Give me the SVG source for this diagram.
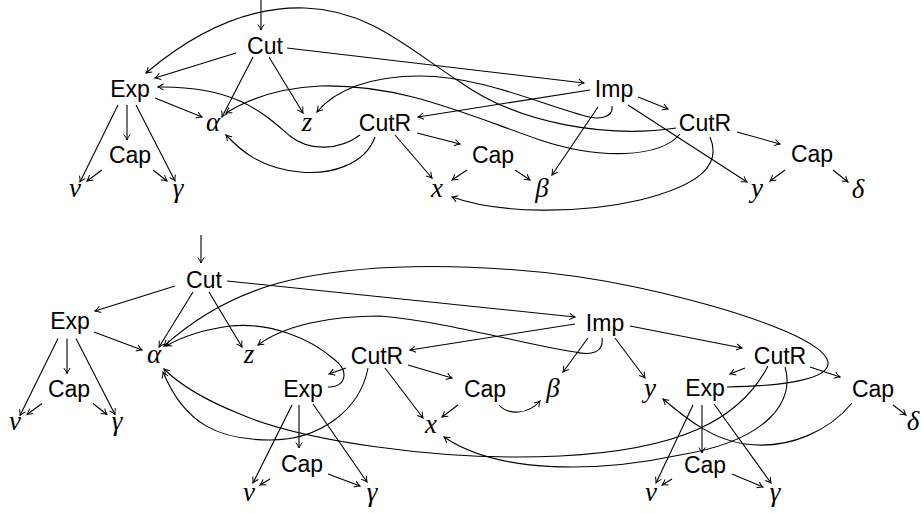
<svg xmlns="http://www.w3.org/2000/svg" width="922" height="513" viewBox="0 0 922 513">
<defs>
<marker id="ah" markerUnits="userSpaceOnUse" viewBox="-7 -4 8 8" markerWidth="8" markerHeight="8" refX="0" refY="0" orient="auto">
<path d="M-5.5,-3.2 Q-2,-0.7 0,0 Q-2,0.7 -5.5,3.2" fill="none" stroke="#000" stroke-width="1"/>
</marker>
</defs>
<style>
.n{font-family:"Liberation Sans",Arial,sans-serif;font-size:23px;fill:#000;text-anchor:middle}
.g{font-family:"Liberation Serif","Times New Roman",serif;font-style:italic;font-size:27px;fill:#000;text-anchor:middle}
#connectors path{fill:none;stroke:#000;stroke-width:1.1;marker-end:url(#ah)}
</style>
<rect width="922" height="513" fill="#fff"/>
<g id="connectors">
<!-- top diagram -->
<path d="M261,0 L261,30"/>
<path d="M236,53 L155,78"/>
<path d="M287,48 L584,83"/>
<path d="M253,57 L222,117"/>
<path d="M269,57 L303,113"/>
<path d="M155,98 L202,117"/>
<path d="M118,105 L80,182"/>
<path d="M127,105 L127,140"/>
<path d="M136,105 L175,181"/>
<path d="M102,170 L87,181"/>
<path d="M153,170 L167,181"/>
<path d="M590,90 L418,117"/>
<path d="M417,133 L460,144"/>
<path d="M395,135 L432,178"/>
<path d="M467,170 L452,180"/>
<path d="M515,170 L530,180"/>
<path d="M598,107 L552,175"/>
<path d="M638,97 L668,109"/>
<path d="M628,105 L747,182"/>
<path d="M737,132 L780,144"/>
<path d="M785,170 L770,181"/>
<path d="M833,170 L848,182"/>
<path d="M676,128 C610,138 520,125 460,82 C410,50 370,10 305,8 C240,6 185,40 146,73"/>
<path d="M680,134 C660,158 600,160 540,140 C460,112 400,84 320,86 C280,88 250,98 226,113"/>
<path d="M612,106 C614,118 598,120 585,116 C540,104 480,76 420,76 C370,76 335,90 317,112"/>
<path d="M360,135 C340,150 310,152 290,136 C262,112 235,86 158,87"/>
<path d="M375,137 C365,165 330,175 300,172 C260,168 240,150 226,135"/>
<path d="M710,137 C722,165 700,185 640,200 C580,214 500,214 452,197"/>
<!-- bottom diagram -->
<path d="M201,235 L201,263"/>
<path d="M175,286 L95,311"/>
<path d="M193,292 L159,347"/>
<path d="M209,292 L242,347"/>
<path d="M94,332 L142,350"/>
<path d="M227,281 L575,317"/>
<path d="M58,338.5 L20,415.5"/>
<path d="M67,338.5 L67,373.5"/>
<path d="M76,338.5 L115,414.5"/>
<path d="M42,403.5 L27,414.5"/>
<path d="M93,403.5 L107,414.5"/>
<path d="M575,324 L410,350"/>
<path d="M346,368 L329,374"/>
<path d="M408,365 L452,378"/>
<path d="M385,368 L423,418"/>
<path d="M458,405 L442,417"/>
<path d="M588,338 L563,372"/>
<path d="M615,338 L645,378"/>
<path d="M630,326 L742,348"/>
<path d="M745,368 L730,374"/>
<path d="M810,367 L840,377"/>
<path d="M893,405 L906,415"/>
<path d="M292,405 L253,483"/>
<path d="M299,405 L299,448"/>
<path d="M313,404 L367,482"/>
<path d="M270,479 L260,485"/>
<path d="M328,474 L360,486"/>
<path d="M693,405 L656,483"/>
<path d="M702,405 L702,453"/>
<path d="M714,404 L771,483"/>
<path d="M672,479 L662,485"/>
<path d="M732,474 L763,487"/>
<path d="M727,387 C790,386 830,378 828,362 C824,340 740,310 640,288 C540,266 400,258 300,278 C240,290 195,318 164,346"/>
<path d="M328,387 C345,388 350,372 335,360 C310,338 270,322 230,326 C200,330 180,338 166,346"/>
<path d="M368,368 C360,410 320,440 270,440 C220,440 185,425 163,372"/>
<path d="M768,366 C740,420 680,450 560,456 C440,462 300,440 240,414 C205,400 180,385 164,369"/>
<path d="M785,367 C795,400 770,440 680,455 C600,472 500,475 444,437"/>
<path d="M852,403 C830,430 790,450 745,444 C715,440 690,422 663,399"/>
<path d="M499,405 C508,415 528,415 540,401"/>
<path d="M602,338 C604,352 592,356 575,352 C530,346 450,322 380,316 C330,316 285,325 258,345"/>
</g>
<g id="cut1"><text class="n" x="265" y="54">Cut</text></g>
<g id="exp1"><text class="n" x="130" y="97">Exp</text></g>
<g id="cap1"><text class="n" x="130" y="162.5">Cap</text></g>
<g id="v1"><text class="g" x="75" y="197">v</text></g>
<g id="gamma1"><text class="g" x="178" y="197">γ</text></g>
<g id="alpha1"><text class="g" x="213" y="131">α</text></g>
<g id="z1"><text class="g" x="307" y="131">z</text></g>
<g id="cutr1"><text class="n" x="385" y="130.5">CutR</text></g>
<g id="cap2"><text class="n" x="493" y="162.5">Cap</text></g>
<g id="x1"><text class="g" x="437" y="197">x</text></g>
<g id="beta1"><text class="g" x="542" y="197">β</text></g>
<g id="imp1"><text class="n" x="614" y="97">Imp</text></g>
<g id="cutr2"><text class="n" x="705" y="131">CutR</text></g>
<g id="cap3"><text class="n" x="812" y="162">Cap</text></g>
<g id="y1"><text class="g" x="757" y="197">y</text></g>
<g id="delta1"><text class="g" x="858" y="198">δ</text></g>
<g id="cut2"><text class="n" x="204" y="288">Cut</text></g>
<g id="exp2"><text class="n" x="70" y="329">Exp</text></g>
<g id="cap4"><text class="n" x="69" y="396.5">Cap</text></g>
<g id="v2"><text class="g" x="15" y="430">v</text></g>
<g id="gamma2"><text class="g" x="117" y="430">γ</text></g>
<g id="alpha2"><text class="g" x="154" y="363">α</text></g>
<g id="z2"><text class="g" x="249" y="363">z</text></g>
<g id="cutr3"><text class="n" x="377" y="364">CutR</text></g>
<g id="exp3"><text class="n" x="303" y="396.5">Exp</text></g>
<g id="cap5"><text class="n" x="302" y="472">Cap</text></g>
<g id="v3"><text class="g" x="249" y="500.5">v</text></g>
<g id="gamma3"><text class="g" x="372" y="500.5">γ</text></g>
<g id="cap6"><text class="n" x="485" y="397">Cap</text></g>
<g id="beta2"><text class="g" x="553" y="397">β</text></g>
<g id="x2"><text class="g" x="431" y="433">x</text></g>
<g id="imp2"><text class="n" x="605" y="330.5">Imp</text></g>
<g id="y2"><text class="g" x="650" y="397">y</text></g>
<g id="cutr4"><text class="n" x="780" y="364">CutR</text></g>
<g id="exp4"><text class="n" x="705" y="396">Exp</text></g>
<g id="cap7"><text class="n" x="873" y="397">Cap</text></g>
<g id="delta2"><text class="g" x="913" y="430">δ</text></g>
<g id="cap8"><text class="n" x="705" y="473">Cap</text></g>
<g id="v4"><text class="g" x="651" y="500.5">v</text></g>
<g id="gamma4"><text class="g" x="775" y="500.5">γ</text></g>
</svg>
